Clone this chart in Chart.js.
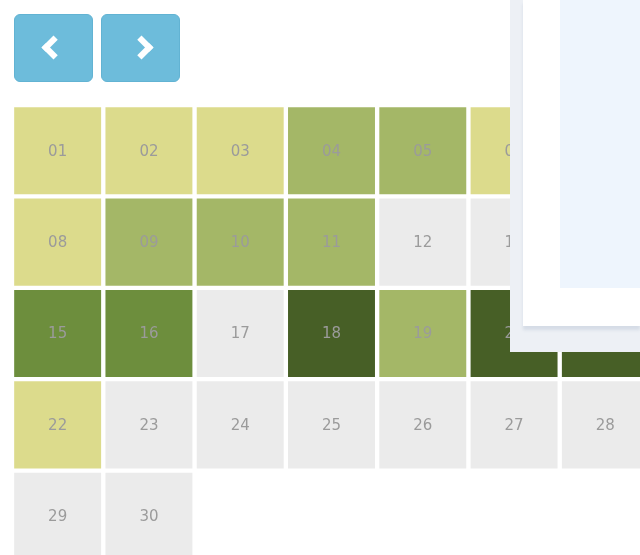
<!DOCTYPE html>
<html>
<head>
<meta charset="utf-8">
<script src="https://cdn.jsdelivr.net/npm/chart.js@4/dist/chart.umd.min.js"></script>
<style>
  html, body { margin: 0; padding: 0; background: #fff; overflow: hidden; width: 640px; height: 555px; }
  .nav { position: absolute; top: 14px; width: 79px; height: 68px; border-radius: 6px; background: #6dbcdb; border: 1px solid #62b3d3; box-sizing: border-box; }
  .nav::after { content: ''; position: absolute; top: 24px; width: 11px; height: 11px; border: solid #fff; border-width: 0 0 6px 6px; }
  #prev { left: 14px; }
  #next { left: 101px; }
  #prev::after { left: 30px; transform: rotate(45deg); }
  #next::after { left: 31px; transform: rotate(-135deg); }
  #wrap { position: absolute; left: 12px; top: 105px; }
  .pop { position: absolute; left: 510px; top: 0; width: 130px; height: 352px; background: #edf0f5; }
  .pop .card { position: absolute; left: 13px; top: 0; right: 0; height: 326px; background: #fff; box-shadow: 0 4px 3px #d5dce6; }
  .pop .body { position: absolute; left: 37px; top: 0; right: 0; height: 288px; background: #eef5fd; }
</style>
</head>
<body>
<div class="nav" id="prev"></div>
<div class="nav" id="next"></div>
<div id="wrap"><canvas id="cal" width="639" height="457"></canvas></div>
<div class="pop"><div class="card"><div class="body"></div></div></div>
<script>
document.addEventListener('DOMContentLoaded', () => {
    // one month, laid out Mon..Sun
    const weekdays = ['Mon', 'Tue', 'Wed', 'Thu', 'Fri', 'Sat', 'Sun'];
    const dayLabels = ['01', '02', '03', '04', '05', '06', '07', '08', '09', '10',
        '11', '12', '13', '14', '15', '16', '17', '18', '19', '20',
        '21', '22', '23', '24', '25', '26', '27', '28', '29', '30'];
    // activity level per day (0 = none .. 4 = high)
    const levels = [1, 1, 1, 2, 2, 1, 2,
        1, 2, 2, 2, 0, 0, 0,
        3, 3, 0, 4, 2, 4, 4,
        1, 0, 0, 0, 0, 0, 0,
        0, 0];
    const palette = ['#ebebeb', '#dcdb8c', '#a4b767', '#6d8e3d', '#475f26'];

    const weeks = Math.ceil(levels.length / 7);
    const datasets = [];
    for (let w = 0; w < weeks; w++) {
        const data = [];
        const lv = [];
        const lbl = [];
        for (let d = 0; d < 7; d++) {
            const i = w * 7 + d;
            if (i >= levels.length) break;
            data.push({ x: weekdays[d], y: [w, w + 1] });
            lv.push(levels[i]);
            lbl.push(dayLabels[i]);
        }
        datasets.push({
            data,
            levels: lv,
            dayText: lbl,
            backgroundColor: (ctx) => palette[ctx.dataset.levels[ctx.dataIndex]] || palette[0],
            borderColor: '#fff',
            borderWidth: 2.5,
            borderSkipped: false,
            grouped: false,
            barPercentage: 1,
            categoryPercentage: 1,
        });
    }

    const dayText = {
        id: 'dayText',
        afterDatasetsDraw(chart) {
            const { ctx } = chart;
            ctx.save();
            ctx.font = '15px "DejaVu Sans", sans-serif';
            ctx.textAlign = 'center';
            ctx.textBaseline = 'middle';
            ctx.fillStyle = '#9b9b9b';
            chart.data.datasets.forEach((ds, di) => {
                chart.getDatasetMeta(di).data.forEach((bar, i) => {
                    const { x, y, base } = bar.getProps(['x', 'y', 'base'], true);
                    ctx.fillText(ds.dayText[i], x, (y + base) / 2 + 1);
                });
            });
            ctx.restore();
        },
    };

    new Chart(document.getElementById('cal'), {
        type: 'bar',
        data: { labels: weekdays, datasets },
        options: {
            responsive: false,
            animation: false,
            layout: { padding: 0 },
            plugins: { legend: { display: false }, tooltip: { enabled: false } },
            scales: {
                x: { display: false },
                y: { display: false, reverse: true, min: 0, max: weeks },
            },
        },
        plugins: [dayText],
    });
});
</script>
</body>
</html>
